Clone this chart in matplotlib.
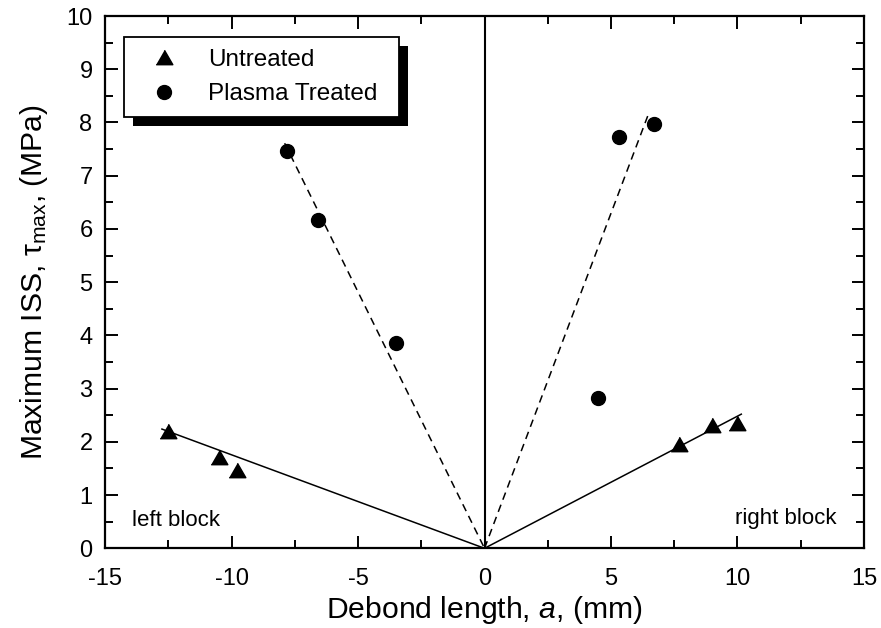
import matplotlib
matplotlib.use("Agg")
import matplotlib.pyplot as plt
from matplotlib.patches import Rectangle
from matplotlib.ticker import MultipleLocator

plt.rcParams['font.family'] = ['Liberation Sans', 'DejaVu Sans']
plt.rcParams['mathtext.fontset'] = 'custom'
plt.rcParams['mathtext.rm'] = 'Liberation Sans'
plt.rcParams['mathtext.it'] = 'Liberation Sans:italic'
plt.rcParams['mathtext.bf'] = 'Liberation Sans:bold'
plt.rcParams['axes.unicode_minus'] = False

# Data
untreated_x = [-12.5, -10.5, -9.8, 7.7, 9.0, 10.0]
untreated_y = [2.21, 1.72, 1.47, 1.96, 2.31, 2.36]
plasma_x = [-7.8, -6.6, -3.5, 4.5, 5.3, 6.7]
plasma_y = [7.46, 6.17, 3.86, 2.83, 7.72, 7.98]

# Fit lines through the origin (endpoints)
untreated_fit_left_x = [-12.75, 0.0]
untreated_fit_left_y = [2.24, 0.0]
untreated_fit_right_x = [0.0, 10.15]
untreated_fit_right_y = [0.0, 2.52]
plasma_fit_left_x = [-7.9, 0.0]
plasma_fit_left_y = [7.61, 0.0]
plasma_fit_right_x = [0.0, 6.45]
plasma_fit_right_y = [0.0, 8.12]

x_ticks = [-15, -10, -5, 0, 5, 10, 15]
y_ticks = [0, 1, 2, 3, 4, 5, 6, 7, 8, 9, 10]

fig = plt.figure(figsize=(8.81, 6.28), dpi=100)
ax = fig.add_axes([0.1192, 0.1269, 0.8615, 0.8476])

# center line
ax.axvline(0, color='black', lw=1.5, zorder=2)

ax.plot(untreated_fit_left_x, untreated_fit_left_y, color='black', lw=1.1, zorder=3)
ax.plot(untreated_fit_right_x, untreated_fit_right_y, color='black', lw=1.1, zorder=3)
ax.plot(plasma_fit_left_x, plasma_fit_left_y, color='black', lw=1.1, dashes=(5, 3.5), zorder=3)
ax.plot(plasma_fit_right_x, plasma_fit_right_y, color='black', lw=1.1, dashes=(5, 3.5), zorder=3)

tri = [(-1, -0.866), (1, -0.866), (0, 0.866)]
ax.plot(untreated_x, untreated_y, linestyle='none', marker=tri, markersize=12,
        color='black', label='Untreated', zorder=4)
ax.plot(plasma_x, plasma_y, linestyle='none', marker='o', markersize=10,
        color='black', label='Plasma Treated', zorder=4)

ax.set_xlim(-15, 15)
ax.set_ylim(0, 10)
ax.set_xticks(x_ticks)
ax.set_yticks(y_ticks)
ax.xaxis.set_minor_locator(MultipleLocator(2.5))
ax.yaxis.set_minor_locator(MultipleLocator(0.5))
ax.tick_params(which='both', direction='in', top=True, right=True, width=1.4)
ax.tick_params(which='major', length=9, labelsize=17)
ax.tick_params(axis='x', which='major', pad=14)
ax.tick_params(axis='y', which='major', pad=9)
ax.tick_params(which='minor', length=5.5)
for s in ax.spines.values():
    s.set_linewidth(1.6)

ax.set_xlabel(r'Debond length, $a$, (mm)', fontsize=21.7, labelpad=3)
ax.set_ylabel('Maximum ISS, τ$_{\\mathrm{max}}$, (MPa)', fontsize=21.7, labelpad=12)

ax.text(-13.95, 0.42, 'left block', fontsize=16, ha='left', va='baseline')
ax.text(13.9, 0.45, 'right block', fontsize=16, ha='right', va='baseline')

leg = ax.legend(loc='upper left', bbox_to_anchor=(0.0254, 0.961, 0.3616, 0),
                mode='expand', fontsize=17.5, frameon=True, fancybox=False,
                borderpad=0.5, labelspacing=0.5, handlelength=2.3,
                handletextpad=0.65, borderaxespad=0)
leg.get_frame().set_edgecolor('black')
leg.get_frame().set_linewidth(1.3)
leg.get_frame().set_alpha(1)
leg.set_zorder(10)

fig.canvas.draw()
bb = leg.get_window_extent()
inv = fig.transFigure.inverted()
(x0, y0) = inv.transform((bb.x0 + 9, bb.y0 - 9))
(x1, y1) = inv.transform((bb.x1 + 9, bb.y1 - 9))
shadow = Rectangle((x0, y0), x1 - x0, y1 - y0, transform=fig.transFigure,
                   facecolor='black', edgecolor='none', zorder=9)
ax.add_artist(shadow)
shadow.set_clip_on(False)

fig.savefig('out.png', dpi=100)
